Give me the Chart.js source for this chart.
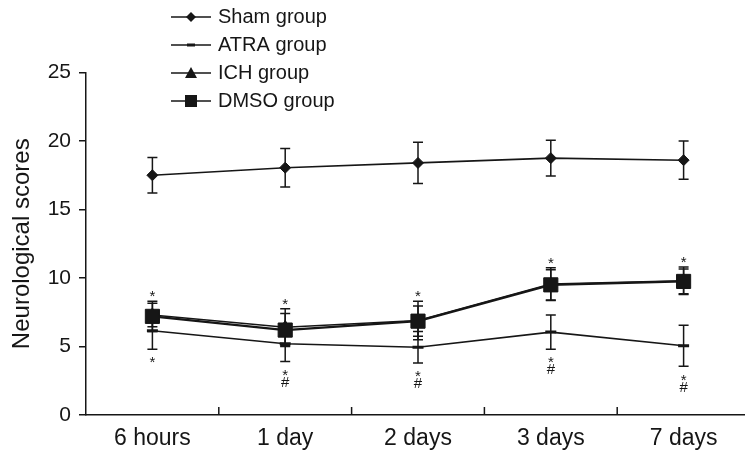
<!DOCTYPE html>
<html><head><meta charset="utf-8">
<script src="https://cdn.jsdelivr.net/npm/chart.js@4"></script>
<style>html,body{margin:0;padding:0;background:#fff;overflow:hidden;width:745px;height:452px}canvas{display:block}</style>
</head><body>
<canvas id="c" width="750" height="452" style="width:750px;height:452px"></canvas>
<script>
const categories = ['6 hours', '1 day', '2 days', '3 days', '7 days'];
const seriesNames = ['Sham group', 'ATRA group', 'ICH group', 'DMSO group'];
const shamValues = [17.5, 18.05, 18.4, 18.75, 18.6];
const shamErrors = [1.3, 1.4, 1.5, 1.3, 1.4];
const atraValues = [6.15, 5.2, 4.95, 6.05, 5.05];
const atraErrors = [1.35, 1.3, 1.15, 1.25, 1.5];
const ichValues = [7.3, 6.4, 6.9, 9.55, 9.8];
const ichErrors = [0.85, 1.35, 1.4, 1.2, 1.0];
const dmsoValues = [7.2, 6.2, 6.85, 9.5, 9.75];
const dmsoErrors = [1.1, 1.2, 1.1, 1.1, 0.9];
const yTicks = [0, 5, 10, 15, 20, 25];
const topMarks = ['*', '*', '*', '*', '*'];
const bottomMarks = [['*'], ['*', '#'], ['*', '#'], ['*', '#'], ['*', '#']];

const INK = '#161616';
const FONT = "Arial, 'Liberation Sans', sans-serif";
Chart.defaults.font.family = FONT;
Chart.defaults.color = INK;

function makeIcon(style) {
  const cv = document.createElement('canvas');
  cv.width = 40; cv.height = 16;
  const c = cv.getContext('2d');
  c.strokeStyle = INK; c.fillStyle = INK; c.lineWidth = 1.6;
  c.beginPath(); c.moveTo(0, 8); c.lineTo(40, 8); c.stroke();
  c.beginPath();
  if (style === 'rectRot') { c.moveTo(20, 3); c.lineTo(25, 8); c.lineTo(20, 13); c.lineTo(15, 8); c.closePath(); c.fill(); }
  else if (style === 'line') { c.lineWidth = 3; c.moveTo(16, 8); c.lineTo(24, 8); c.stroke(); }
  else if (style === 'triangle') { c.moveTo(20, 2); c.lineTo(26, 13); c.lineTo(14, 13); c.closePath(); c.fill(); }
  else if (style === 'rect') { c.rect(14, 2, 12, 12); c.fill(); }
  return cv;
}
const iconStyles = ['rectRot', 'line', 'triangle', 'rect'];
const legendIcons = iconStyles.map(makeIcon);

const marksPlugin = {
  id: 'marks',
  afterLayout(chart) {
    const lg = chart.legend;
    if (!lg) return;
    const w = lg.width, h = lg.height;
    lg.left = 166; lg.top = -1; lg.right = lg.left + w; lg.bottom = lg.top + h;
  },
  beforeDatasetsDraw(chart) {
    const ctx = chart.ctx, xs = chart.scales.x, ys = chart.scales.y;
    ctx.save();
    ctx.strokeStyle = INK; ctx.lineWidth = 1.5;
    chart.data.datasets.forEach(ds => {
      ds.data.forEach((v, i) => {
        const e = ds.errors[i];
        const px = xs.getPixelForValue(i);
        const yt = ys.getPixelForValue(v + e), yb = ys.getPixelForValue(v - e);
        ctx.beginPath();
        ctx.moveTo(px, yt); ctx.lineTo(px, yb);
        ctx.moveTo(px - 5, yt); ctx.lineTo(px + 5, yt);
        ctx.moveTo(px - 5, yb); ctx.lineTo(px + 5, yb);
        ctx.stroke();
      });
    });
    for (let i = 0; i < categories.length; i++) {
      const bx = xs.getPixelForValue(i + 0.5);
      ctx.beginPath(); ctx.moveTo(bx, xs.top); ctx.lineTo(bx, xs.top - 8); ctx.stroke();
    }
    ctx.restore();
  },
  afterDatasetsDraw(chart) {
    const ctx = chart.ctx, xs = chart.scales.x, ys = chart.scales.y;
    ctx.save();
    ctx.fillStyle = INK; ctx.textAlign = 'center'; ctx.textBaseline = 'middle';
    ctx.font = '15px ' + FONT;
    categories.forEach((c, i) => {
      const px = xs.getPixelForValue(i);
      const top = Math.max(ichValues[i] + ichErrors[i], dmsoValues[i] + dmsoErrors[i]);
      ctx.fillText(topMarks[i], px, ys.getPixelForValue(top) - 4);
      const low = ys.getPixelForValue(atraValues[i] - atraErrors[i]);
      bottomMarks[i].forEach((m, k) => {
        ctx.fillText(m, px, low + (m === '*' ? 14 : 21));
      });
    });
    ctx.restore();
  }
};

const mk = (label, data, errors, style, radius, bw, lw, order) => ({
  label, data, errors, order,
  borderColor: INK, backgroundColor: INK, borderWidth: lw,
  pointStyle: style, pointRadius: radius, pointBorderWidth: bw,
  pointBackgroundColor: INK, pointBorderColor: INK, pointHoverRadius: radius,
  tension: 0, fill: false
});

new Chart(document.getElementById('c'), {
  type: 'line',
  data: {
    labels: categories,
    datasets: [
      mk(seriesNames[0], shamValues, shamErrors, 'rectRot', 5.5, 1, 1.6, 3),
      mk(seriesNames[1], atraValues, atraErrors, 'line', 5.5, 3, 1.6, 2),
      mk(seriesNames[2], ichValues, ichErrors, 'triangle', 7, 1, 1.6, 1),
      mk(seriesNames[3], dmsoValues, dmsoErrors, 'rect', 10, 1, 2.2, 0)
    ]
  },
  options: {
    responsive: false, animation: false,
    layout: { autoPadding: false, padding: { top: 72.5, left: 0, right: 0, bottom: 0 } },
    plugins: {
      tooltip: { enabled: false },
      legend: {
        position: 'chartArea', align: 'start',
        labels: {
          usePointStyle: true, pointStyleWidth: 34, padding: 8,
          color: INK, font: { family: FONT, size: 20 },
          generateLabels: (chart) => chart.data.datasets.map((ds, i) => ({
            text: ds.label, pointStyle: legendIcons[i], fillStyle: INK, strokeStyle: INK,
            lineWidth: 0, hidden: false, datasetIndex: i, fontColor: INK
          }))
        }
      }
    },
    scales: {
      x: {
        type: 'category', offset: true,
        afterFit(s) { s.height = 37; s.paddingLeft = 0; s.paddingRight = 0; },
        border: { display: true, color: INK, width: 1.5 },
        grid: { drawOnChartArea: false, drawTicks: false, offset: true },
        ticks: { padding: 10, color: INK, font: { family: FONT, size: 23 }, maxRotation: 0, autoSkip: false }
      },
      y: {
        min: 0, max: 25,
        afterBuildTicks(s) { s.ticks = yTicks.map(v => ({ value: v })); },
        afterFit(s) { s.width = 86; s.paddingTop = 0; s.paddingBottom = 0; },
        border: { display: true, color: INK, width: 1.5 },
        grid: { drawOnChartArea: false, drawTicks: true, tickLength: 7, color: INK, lineWidth: 1.5 },
        ticks: { padding: 8, color: INK, font: { family: FONT, size: 21 } },
        title: { display: true, text: 'Neurological scores', color: INK,
          font: { family: FONT, size: 24, lineHeight: 1.2 }, padding: { top: 8, bottom: 0 } }
      }
    }
  },
  plugins: [marksPlugin]
});
</script>
</body></html>
